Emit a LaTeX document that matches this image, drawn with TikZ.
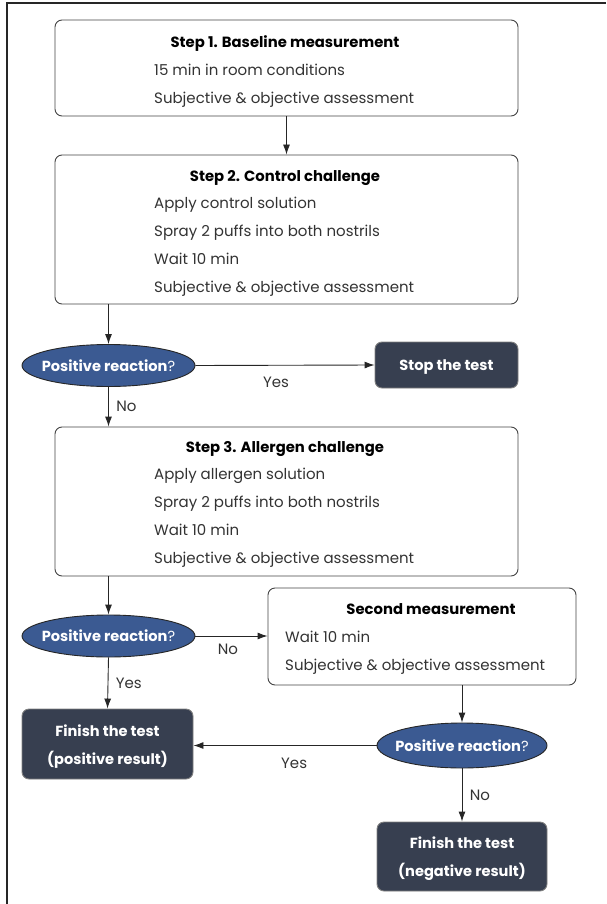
\documentclass[tikz,border=0pt]{standalone}
\usepackage{fontspec}
\setmainfont{Poppins}
\usetikzlibrary{arrows.meta, shapes.geometric}

\definecolor{askblue}{HTML}{3B5A92}
\definecolor{enddark}{HTML}{373F50}
\definecolor{boxline}{HTML}{444444}
\definecolor{txtgray}{HTML}{333333}

\tikzset{
    stepbox/.style={draw=boxline, line width=0.9pt, rounded corners=7pt, fill=white, inner sep=0pt},
    askell/.style={ellipse, draw=black!85, line width=0.9pt, fill=askblue, inner xsep=-8pt, inner ysep=0pt,
        text=white, font=\fontsize{14.6}{16}\selectfont\bfseries},
    endbox/.style={draw=gray, line width=0.9pt, rounded corners=7pt, fill=enddark, inner sep=0pt,
        text=white, font=\fontsize{14.6}{28}\selectfont\bfseries, align=center,
        text height=1.1em, text depth=0.1em},
    twoline/.style={text height=40pt, text depth=0pt},
    boxtitle/.style={font=\fontsize{14.8}{16}\selectfont\bfseries, text=black,
        text height=0.75em, text depth=0.22em, yshift=-2.5pt},
    boxline/.style={anchor=west, font=\fontsize{15}{16}\selectfont, text=txtgray, inner sep=0pt,
        text height=0.75em, text depth=0.22em, yshift=-2.5pt},
    answer/.style={font=\fontsize{15}{16}\selectfont, text=txtgray},
    flow/.style={->, line width=0.9pt, black!85},
}

\newcommand{\ask}{Positive reaction{\mdseries ?}}

\begin{document}
\begin{tikzpicture}[x=1pt, y=-1pt, >={Latex[length=10pt,width=7pt]}]
            \useasboundingbox (0,0) rectangle (606,904);
            \draw[black!85, line width=1.3pt] (7,904) -- (7,3) -- (606,3);

            % step 1
            \node[stepbox, minimum width=463pt, minimum height=96pt] (step1) at (286.5,68) {};
            \node[boxtitle] (t1) at (285,42) {Step 1. Baseline measurement};
            \node[boxline] (l11) at (154,70) {15 min in room conditions};
            \node[boxline] (l12) at (154,98) {Subjective \& objective assessment};

            % step 2
            \node[stepbox, minimum width=463pt, minimum height=149pt] (step2) at (286.5,229.5) {};
            \node[boxtitle] (t2) at (285,176) {Step 2. Control challenge};
            \foreach \txt [count=\i] in {Apply control solution, Spray 2 puffs into both nostrils,
                    Wait 10 min, Subjective \& objective assessment}{
                \node[boxline] (l2\i) at (154,176+27.8*\i) {\txt};
            }

            \node[askell, minimum width=173pt, minimum height=42pt] (ask1) at (108.5,365.5) {\ask};
            \node[endbox, minimum width=143pt, minimum height=46pt] (stop) at (446.5,365) {Stop the test};

            % step 3
            \node[stepbox, minimum width=463pt, minimum height=149pt] (step3) at (286.5,501.5) {};
            \node[boxtitle] (t3) at (285,447) {Step 3. Allergen challenge};
            \foreach \txt [count=\i] in {Apply allergen solution, Spray 2 puffs into both nostrils,
                    Wait 10 min, Subjective \& objective assessment}{
                \node[boxline] (l3\i) at (154,447+27.8*\i) {\txt};
            }

            \node[askell, minimum width=173pt, minimum height=42pt] (ask2) at (108.5,636) {\ask};

            % second measurement
            \node[stepbox, minimum width=308pt, minimum height=97pt] (second) at (422,636.5) {};
            \node[boxtitle] (t4) at (431,609) {Second measurement};
            \node[boxline] (l41) at (285,637) {Wait 10 min};
            \node[boxline] (l42) at (285,665) {Subjective \& objective assessment};

            \node[endbox, twoline, minimum width=171pt, minimum height=70pt] (finpos) at (107.5,744)
                {Finish the test\\(positive result)};
            \node[askell, minimum width=170pt, minimum height=45pt] (ask3) at (462,745.5) {\ask};
            \node[endbox, twoline, minimum width=170pt, minimum height=69pt] (finneg) at (462,856.5)
                {Finish the test\\(negative result)};

            % arrows
            \draw[flow] (step1.south) -- (step2.north);
            \draw[flow] (step2.south -| ask1) -- (ask1.north);
            \draw[flow] (ask1.east) -- (stop.west) node[answer, pos=0.45, below=8pt] {Yes};
            \draw[flow] (ask1.south) -- (step3.north -| ask1) node[answer, midway, right=4pt] {No};
            \draw[flow] (step3.south -| ask2) -- (ask2.north);
            \draw[flow] (ask2.east) -- (second.west |- ask2) node[answer, pos=0.45, below=4pt] {No};
            \draw[flow] (ask2.south) -- (finpos.north) node[answer, midway, right=4pt] {Yes};
            \draw[flow] (second.south -| ask3) -- (ask3.north);
            \draw[flow] (ask3.west) -- (finpos.east |- ask3) node[answer, pos=0.45, below=9pt] {Yes};
            \draw[flow] (ask3.south) -- (finneg.north) node[answer, midway, right=4pt] {No};
        \end{tikzpicture}
\end{document}
